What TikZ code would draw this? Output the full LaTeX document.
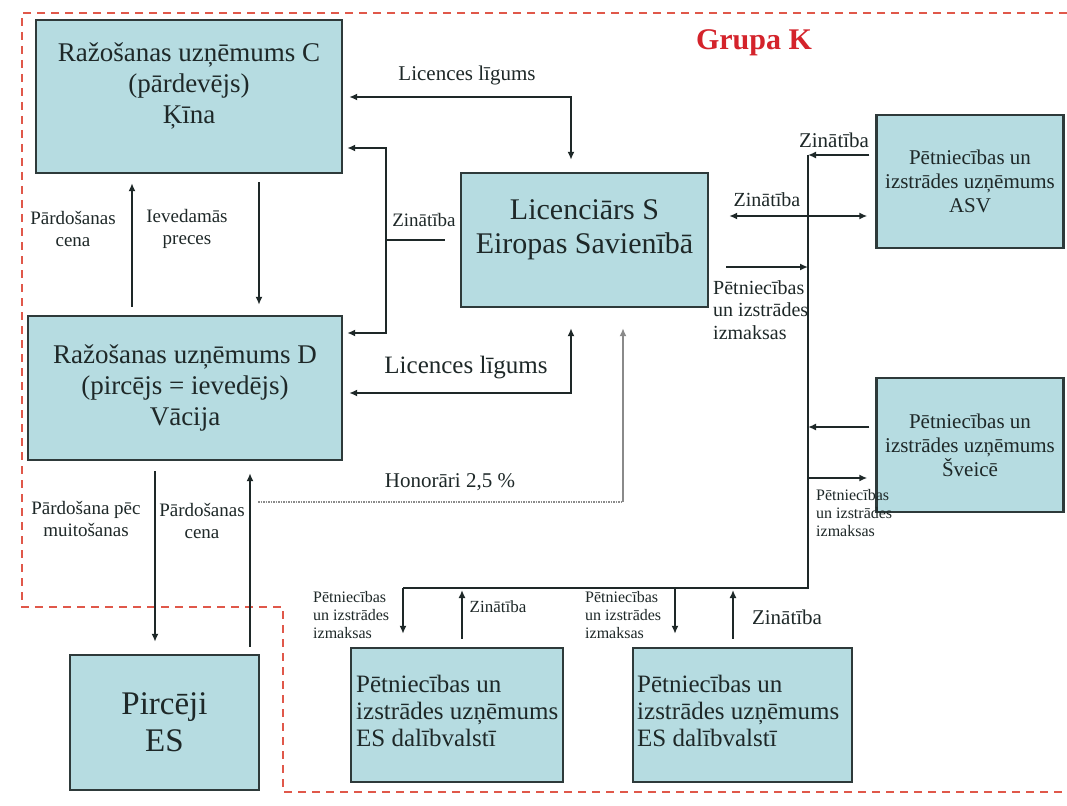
\documentclass[tikz,border=0pt]{standalone}
\usepackage{fontspec}
\setmainfont{Liberation Serif}
\usetikzlibrary{arrows.meta,calc}
\definecolor{boxfill}{HTML}{B6DCE1}
\definecolor{boxline}{HTML}{2E3A3A}
\definecolor{grpline}{HTML}{E0584A}
\definecolor{grptext}{HTML}{D4232B}
\definecolor{ink}{HTML}{1E2828}
\definecolor{honor}{HTML}{8A8A8A}
\newcommand{\fs}[2]{\fontsize{#1pt}{#2pt}\selectfont}
\begin{document}
\begin{tikzpicture}[x=1pt,y=-1pt,
  box/.style={draw=boxline, line width=2.4pt, fill=boxfill, rectangle, inner sep=0pt, text=ink, align=center},
  ln/.style={draw=ink, line width=2pt},
  arr/.style={ln, -{Latex[length=8pt,width=7pt]}},
  darr/.style={ln, {Latex[length=8pt,width=7pt]}-{Latex[length=8pt,width=7pt]}},
  lbl/.style={text=ink, align=center, inner sep=0pt},
  lbll/.style={text=ink, align=left, inner sep=0pt},
  grp/.style={draw=grpline, line width=2.2pt, dash pattern=on 8pt off 6pt}
]
\useasboundingbox (0,0) rectangle (1067,805);
\fill[white] (0,0) rectangle (1067,805);

% group border
\draw[grp] (1067,13) -- (22,13) -- (22,607) -- (283,607) -- (283,792) -- (1067,792);
\node[text=grptext, font=\bfseries\fs{30}{34}, inner sep=0pt] (grupa) at (754,43) {Grupa K};

% boxes
\node[box, minimum width=306pt, minimum height=153pt] (C) at (189,96.5) {};
\node[lbl, font=\fs{27}{31}] (Ct) at (189,86) {Ražošanas uzņēmums C\\(pārdevējs)\\Ķīna};
\node[box, minimum width=314pt, minimum height=144pt, font=\fs{27}{31}] (D) at (185,388) {Ražošanas uzņēmums D\\(pircējs = ievedējs)\\Vācija};
\node[box, minimum width=247pt, minimum height=134pt] (S) at (584.5,240) {};
\node[lbl, font=\fs{30}{34}] (St) at (584.5,230) {Licenciārs S\\Eiropas Savienībā};
\node[box, minimum width=187pt, minimum height=133pt, font=\fs{21}{24}] (ASV) at (970,181.5) {Pētniecības un\\izstrādes uzņēmums\\ASV};
\node[box, minimum width=187pt, minimum height=134pt, font=\fs{21}{24}] (SV) at (970,445) {Pētniecības un\\izstrādes uzņēmums\\Šveicē};
\node[box, minimum width=189pt, minimum height=135pt, font=\fs{33}{37}] (P) at (164.5,722.5) {Pircēji\\ES};
\node[box, minimum width=212pt, minimum height=134pt] (E1) at (457,715) {};
\node[lbll, font=\fs{25}{27}, anchor=west] (E1t) at (356,711) {Pētniecības un\\izstrādes uzņēmums\\ES dalībvalstī};
\node[box, minimum width=219pt, minimum height=134pt] (E2) at (742.5,715) {};
\node[lbll, font=\fs{25}{27}, anchor=west] (E2t) at (637,711) {Pētniecības un\\izstrādes uzņēmums\\ES dalībvalstī};

% coordinates
\coordinate (L1) at (571,97);
\coordinate (L2) at (571,393);
\coordinate (Z1) at (386,148);
\coordinate (Z2) at (386,333);
\coordinate (Z3) at (386,240);
\coordinate (Z4) at (445,240);
\coordinate (H1) at (258,502);
\coordinate (H2) at (623,502);
\coordinate (B1) at (808,155);
\coordinate (B2) at (808,588);
\coordinate (B3) at (403,588);
\coordinate (B4) at (808,267);
\coordinate (B5) at (808,427);
\coordinate (B6) at (808,478);
\coordinate (B7) at (462,588);
\coordinate (B8) at (675,588);
\coordinate (B9) at (733,588);
\coordinate (DA) at (0,216);

% left side connectors
\draw[darr, shorten <=12pt, shorten >=6pt] (S.north -| L1) -- (L1) -- (C.east |- L1);
\draw[arr, shorten >=4pt] (Z3) -- (Z1) -- (C.east |- Z1);
\draw[arr, shorten >=4pt] (Z3) -- (Z2) -- (D.east |- Z2);
\draw[ln] (Z3) -- (Z4);
\draw[arr, shorten <=8pt, shorten >=10pt] (C.south -| 259,0) -- (D.north -| 259,0);
\draw[arr, shorten <=8pt, shorten >=9pt] (D.north -| 132,0) -- (C.south -| 132,0);
\draw[darr, shorten <=20pt, shorten >=6pt] (S.south -| L2) -- (L2) -- (D.east |- L2);
\draw[honor, line width=1.5pt, densely dotted] (H1) -- (H2);
\draw[draw=honor, line width=1.5pt, -{Latex[length=8pt,width=7pt]}, shorten >=20pt] (H2) -- (S.south -| H2);
\draw[arr, shorten <=10pt, shorten >=12pt] (D.south -| 155,0) -- (P.north -| 155,0);
\draw[arr, shorten <=7pt, shorten >=12pt] (P.north -| 250,0) -- (D.south -| 250,0);

% right side bus
\draw[ln] (B1) -- (B2) -- (B3);
\draw[arr, shorten <=6pt] (ASV.west |- B1) -- (B1);
\draw[darr, shorten <=20pt, shorten >=8pt] (S.east |- DA) -- (ASV.west |- DA);
\draw[arr, shorten <=17pt] (S.east |- B4) -- (B4);
\draw[arr, shorten <=6pt] (SV.west |- B5) -- (B5);
\draw[arr, shorten >=8pt] (B6) -- (SV.west |- B6);
\draw[arr, shorten >=13pt] (B3) -- (E1.north -| B3);
\draw[arr, shorten <=8pt, shorten >=2pt] (E1.north -| B7) -- (B7);
\draw[arr, shorten >=13pt] (B8) -- (E2.north -| B8);
\draw[arr, shorten <=8pt, shorten >=2pt] (E2.north -| B9) -- (B9);

% labels
\node[lbl, font=\fs{21}{24}] (lab1) at (467,75) {Licences līgums};
\node[lbl, font=\fs{25}{28}] (lab2) at (466,368) {Licences līgums};
\node[lbl, font=\fs{19}{22}] (lab3) at (424,220) {Zinātība};
\node[lbl, font=\fs{21}{24}] (lab4) at (450,482) {Honorāri 2,5 \%};
\node[lbl, font=\fs{19}{22}] (lab5) at (73,229) {Pārdošanas\\cena};
\node[lbl, font=\fs{19}{22}] (lab6) at (187,229) {Ievedamās\\preces};
\node[lbl, font=\fs{19}{22}] (lab7) at (86,519) {Pārdošana pēc\\muitošanas};
\node[lbl, font=\fs{19}{22}] (lab8) at (202,521) {Pārdošanas\\cena};
\node[lbl, font=\fs{21}{24}] (lab9) at (834,140) {Zinātība};
\node[lbl, font=\fs{20}{23}] (lab10) at (767,200) {Zinātība};
\node[lbll, font=\fs{20}{22.5}, anchor=north west] (lab11) at (713,280) {Pētniecības\\un izstrādes\\izmaksas};
\node[lbll, font=\fs{16}{18}, anchor=north west] (lab12) at (816,489) {Pētniecības\\un izstrādes\\izmaksas};
\node[lbll, font=\fs{16}{18}, anchor=north west] (lab13) at (313,591) {Pētniecības\\un izstrādes\\izmaksas};
\node[lbll, font=\fs{16}{18}, anchor=north west] (lab14) at (585,591) {Pētniecības\\un izstrādes\\izmaksas};
\node[lbl, font=\fs{17}{20}] (lab15) at (498,607) {Zinātība};
\node[lbl, font=\fs{21}{24}] (lab16) at (787,617) {Zinātība};
\end{tikzpicture}
\end{document}
